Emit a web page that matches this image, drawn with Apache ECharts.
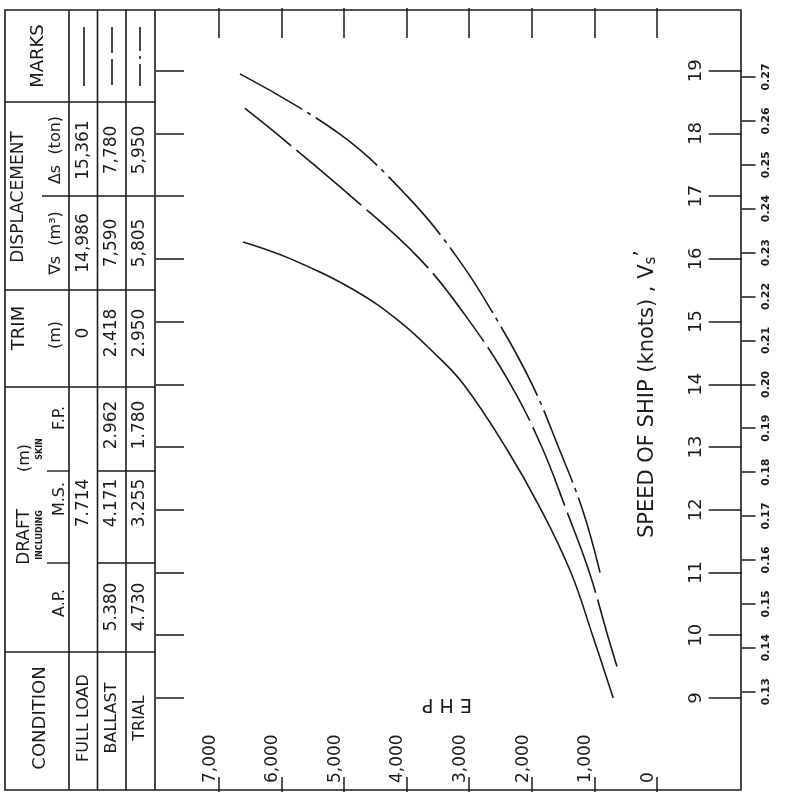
<!DOCTYPE html>
<html>
<head>
<meta charset="utf-8">
<script src="https://cdn.jsdelivr.net/npm/echarts@6/dist/echarts.min.js"></script>
<style>
  html, body { margin: 0; padding: 0; background: #ffffff; }
  #chart { width: 786px; height: 801px; }
</style>
</head>
<body>
<div id="chart"></div>
<script>
// Effective horsepower against ship speed for three loading conditions
const fullLoadSpeed = [9.0, 10.0, 11.0, 12.0, 13.0, 14.0, 14.5, 15.0, 15.5, 16.0, 16.27];
const fullLoadEhp   = [700, 1030, 1375, 1850, 2420, 3090, 3560, 4110, 4830, 5850, 6610];
const ballastSpeed  = [9.5, 10.0, 11.0, 12.0, 13.0, 14.0, 15.0, 16.0, 17.0, 18.0, 18.4];
const ballastEhp    = [640, 790, 1080, 1450, 1840, 2340, 2990, 3790, 4890, 6080, 6580];
const trialSpeed    = [11.0, 12.0, 13.0, 14.0, 15.0, 16.0, 17.0, 18.0, 18.95];
const trialEhp      = [910, 1190, 1575, 1995, 2540, 3175, 3990, 5080, 6660];

// Axis tick values
const ehpTicks     = [0, 1000, 2000, 3000, 4000, 5000, 6000, 7000];
const speedTicks   = [9, 10, 11, 12, 13, 14, 15, 16, 17, 18, 19];
const froudeTicks  = [0.13, 0.14, 0.15, 0.16, 0.17, 0.18, 0.19, 0.20, 0.21, 0.22, 0.23, 0.24, 0.25, 0.26, 0.27];
const speedPerFroude = 70;

// Condition table
const conditions = ['FULL LOAD', 'BALLAST', 'TRIAL'];
const draftAP    = ['', '5.380', '4.730'];
const draftMS    = ['7.714', '4.171', '3.255'];
const draftFP    = ['', '2.962', '1.780'];
const trimM      = ['0', '2.418', '2.950'];
const volDisp    = ['14,986', '7,590', '5,805'];
const massDisp   = ['15,361', '7,780', '5,950'];

const INK = '#1b1b1b';
const FONT = '"DejaVu Sans", "Noto Sans", sans-serif';

function pairs(xs, ys) { return xs.map((x, i) => [x, ys[i]]); }
function fmtThousands(v) { return String(v).replace(/\B(?=(\d{3})+(?!\d))/g, ','); }

// upright text turned a quarter-turn anticlockwise
function vtext(x, y, text, size, extra) {
  return Object.assign({
    type: 'text', x: x, y: y, rotation: Math.PI / 2, silent: true,
    style: Object.assign({ text: text, fontSize: size, fontFamily: FONT, fill: INK,
      align: 'center', verticalAlign: 'middle' }, (extra && extra.style) || {})
  }, (extra && extra.el) || {});
}
function hline(x1, x2, y, w) {
  return { type: 'line', silent: true, shape: { x1: x1, y1: y, x2: x2, y2: y }, style: { stroke: INK, lineWidth: w || 1.5 } };
}
function vline(x, y1, y2, w, dash) {
  return { type: 'line', silent: true, shape: { x1: x, y1: y1, x2: x, y2: y2 },
    style: { stroke: INK, lineWidth: w || 1.5, lineDash: dash || null } };
}

// table geometry (bands along y, condition strips along x)
const T = { left: 5, right: 155, top: 10, bottom: 790, head: 69 };
const stripX = [69, 97.5, 126, 155];
const stripMid = [84, 112, 140];
const band = { marks: 102, mass: 196, vol: 290, trim: 387, fp: 471, ms: 563, ap: 652 };
const yMid = { marks: 56, mass: 150, vol: 243, trim: 333, fp: 425, ms: 503, ap: 607, cond: 718 };

const graphics = [];
graphics.push({ type: 'rect', silent: true, shape: { x: 5, y: 10, width: 736, height: 780 },
  style: { fill: null, stroke: INK, lineWidth: 1.6 } });
stripX.forEach(x => graphics.push(vline(x, T.top, T.bottom, 1.6)));
[band.marks, band.vol, band.trim, band.ap].forEach(y => graphics.push(hline(T.left, T.right, y, 1.5)));
graphics.push(hline(42, T.right, band.mass, 1.4));
graphics.push(hline(47, T.head, band.fp, 1.4));
graphics.push(hline(stripX[1], T.right, band.fp, 1.4));
graphics.push(hline(47, T.head, band.ms, 1.4));
graphics.push(hline(stripX[1], T.right, band.ms, 1.4));

graphics.push(vtext(38, yMid.marks, 'MARKS', 18));
graphics.push(vtext(19, 197, 'DISPLACEMENT', 17));
graphics.push(vtext(56, yMid.mass, 'Δs  (ton)', 16));
graphics.push(vtext(56, yMid.vol, '∇s  (m³)', 16));
graphics.push(vtext(19, 328, 'TRIM', 18));
graphics.push(vtext(56, 335, '(m)', 16));
graphics.push(vtext(25, 537, 'DRAFT', 17));
graphics.push(vtext(25, 458, '(m)', 16));
graphics.push(vtext(40, 535, 'INCLUDING', 8, { style: { fontWeight: 'bold' } }));
graphics.push(vtext(40, 449, 'SKIN', 8, { style: { fontWeight: 'bold' } }));
graphics.push(vtext(60, 603, 'A.P.', 16));
graphics.push(vtext(60, 499, 'M.S.', 16));
graphics.push(vtext(60, 418, 'F.P.', 16));
graphics.push(vtext(40, yMid.cond, 'CONDITION', 18));

conditions.forEach((c, i) => {
  const x = stripMid[i];
  graphics.push(vtext(x, yMid.cond, c, 16));
  graphics.push(vtext(x, yMid.mass, massDisp[i], 17));
  graphics.push(vtext(x, yMid.vol, volDisp[i], 17));
  graphics.push(vtext(x, yMid.trim, trimM[i], 17));
  if (draftFP[i]) graphics.push(vtext(x, yMid.fp, draftFP[i], 17));
  graphics.push(vtext(x, yMid.ms, draftMS[i], 17));
  if (draftAP[i]) graphics.push(vtext(x, yMid.ap, draftAP[i], 17));
});

const lineKinds = [null, [26, 6], [24, 5, 3, 5]];
lineKinds.forEach((dash, i) => graphics.push(vline(stripMid[i], 27, 86, 1.6, dash)));

graphics.push(vtext(648, 394, '', 21, { style: {
  text: 'SPEED OF SHIP (knots) , V{s|s}{p|’}',
  rich: { s: { fontSize: 15, fontFamily: FONT, fill: INK, padding: [7, 0, 0, 0] },
          p: { fontSize: 21, fontFamily: FONT, fill: INK, padding: [0, 0, 9, 0] } } } }));
graphics.push({ type: 'text', x: 447, y: 704, rotation: Math.PI, silent: true,
  style: { text: 'E H P', fontSize: 19, fontFamily: FONT, fill: INK, align: 'center', verticalAlign: 'middle' } });

const tickStyle = { color: INK, width: 1.5 };
const noLine = { show: false, onZero: false };

const option = {
  backgroundColor: '#ffffff',
  animation: false,
  grid: { left: 156, top: 8, width: 585.6, height: 784, containLabel: false },
  xAxis: [
    { type: 'value', position: 'bottom', inverse: true, min: -1350, max: 8000,
      splitLine: { show: false }, axisLine: noLine,
      axisTick: { show: true, inside: true, length: 15, lineStyle: tickStyle, customValues: ehpTicks },
      axisLabel: { show: true, inside: true, rotate: 90, margin: 9, align: 'left', verticalAlign: 'bottom',
        fontSize: 17, fontFamily: FONT, color: INK, customValues: ehpTicks,
        formatter: v => fmtThousands(v) } },
    { type: 'value', position: 'top', inverse: true, min: -1350, max: 8000,
      splitLine: { show: false }, axisLine: noLine,
      axisTick: { show: true, inside: true, length: 30, lineStyle: tickStyle, customValues: ehpTicks },
      axisLabel: { show: false } }
  ],
  yAxis: [
    { type: 'value', position: 'left', offset: 0, min: 7.5, max: 20,
      splitLine: { show: false }, axisLine: noLine,
      axisTick: { show: true, inside: true, length: 28, lineStyle: tickStyle, customValues: speedTicks },
      axisLabel: { show: false } },
    { type: 'value', position: 'right', offset: 0, min: 7.5, max: 20,
      splitLine: { show: false }, axisLine: noLine,
      axisTick: { show: true, inside: true, length: 33, lineStyle: tickStyle, customValues: speedTicks },
      axisLabel: { show: true, inside: true, rotate: 90, margin: 36, align: 'center', verticalAlign: 'bottom',
        fontSize: 18, fontFamily: FONT, color: INK, customValues: speedTicks } },
    { type: 'value', position: 'right', offset: 0, min: 7.5 / speedPerFroude, max: 20 / speedPerFroude,
      splitLine: { show: false }, axisLine: noLine,
      axisTick: { show: true, inside: false, length: 14, lineStyle: tickStyle, customValues: froudeTicks },
      axisLabel: { show: true, rotate: 90, margin: 25, align: 'center', verticalAlign: 'middle',
        fontSize: 11, fontWeight: 'bold', fontFamily: FONT, color: INK, customValues: froudeTicks,
        formatter: v => v.toFixed(2) } }
  ],
  series: [
    { name: 'FULL LOAD', type: 'line', xAxisIndex: 0, yAxisIndex: 0, data: pairs(fullLoadEhp, fullLoadSpeed),
      smooth: 0.4, symbol: 'none', silent: true, lineStyle: { color: INK, width: 1.6, type: 'solid' } },
    { name: 'BALLAST', type: 'line', xAxisIndex: 0, yAxisIndex: 0, data: pairs(ballastEhp, ballastSpeed),
      smooth: 0.4, symbol: 'none', silent: true, lineStyle: { color: INK, width: 1.6, type: [85, 7], dashOffset: 15 } },
    { name: 'TRIAL', type: 'line', xAxisIndex: 0, yAxisIndex: 0, data: pairs(trialEhp, trialSpeed),
      smooth: 0.4, symbol: 'none', silent: true, lineStyle: { color: INK, width: 1.6, type: [78, 6, 4, 6] } }
  ],
  graphic: graphics
};

const chart = echarts.init(document.getElementById('chart'), null, { renderer: 'canvas' });
chart.setOption(option);
</script>
</body>
</html>
